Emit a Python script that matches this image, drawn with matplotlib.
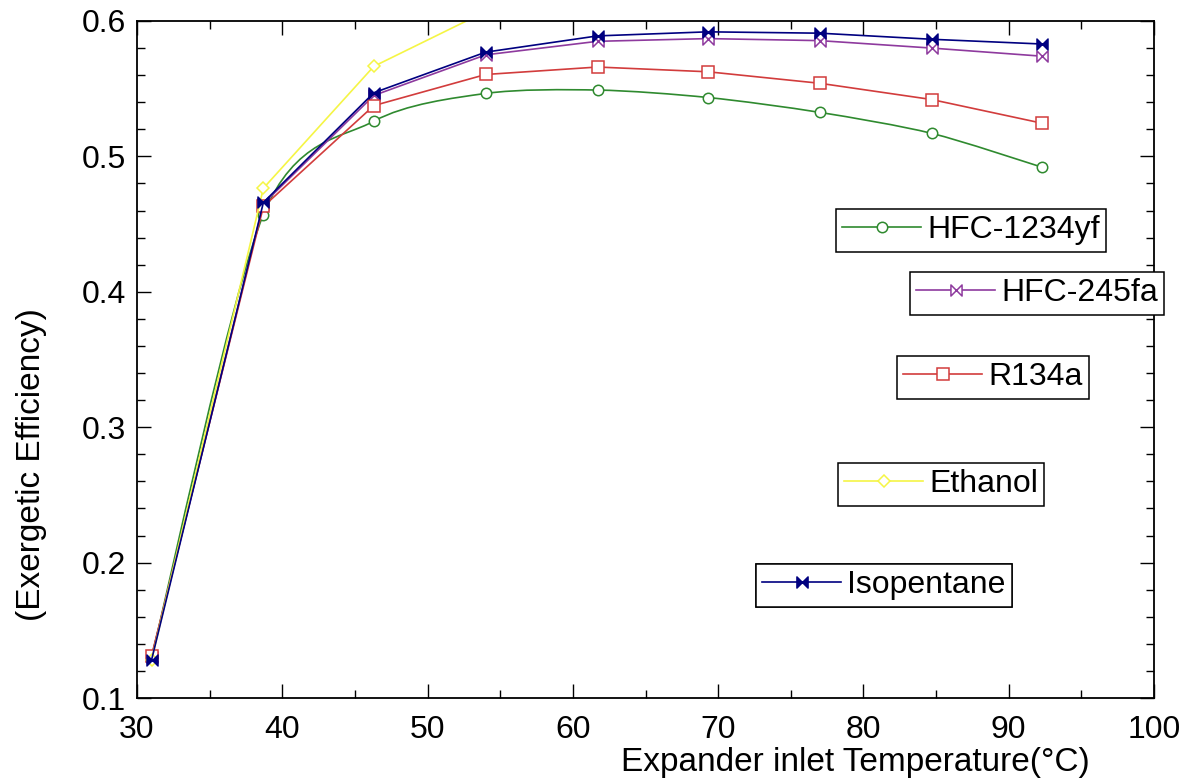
import numpy as np
import matplotlib
matplotlib.use('Agg')
import matplotlib.pyplot as plt
from matplotlib.path import Path
from matplotlib.patches import PathPatch
from matplotlib.lines import Line2D
from matplotlib.ticker import MultipleLocator

plt.rcParams['font.family'] = ['Liberation Sans', 'DejaVu Sans']

# Expander inlet temperature (°C)
temp = [31.0, 38.7, 46.3, 54.0, 61.7, 69.3, 77.0, 84.7, 92.3]

# Exergetic efficiency per working fluid
hfc1234yf = [0.130, 0.457, 0.526, 0.5465, 0.549, 0.5435, 0.5325, 0.517, 0.492]
hfc245fa = [0.130, 0.465, 0.545, 0.575, 0.585, 0.587, 0.5855, 0.580, 0.574]
r134a = [0.131, 0.463, 0.5375, 0.5605, 0.566, 0.5625, 0.554, 0.542, 0.5245]
ethanol = [0.128, 0.4765, 0.5665, 0.607]
isopentane = [0.128, 0.466, 0.547, 0.577, 0.589, 0.592, 0.591, 0.5865, 0.583]

GREEN = '#2f8a2f'
PURPLE = '#8e3a9e'
RED = '#d23c3c'
YELLOW = '#f5f545'
NAVY = '#000080'

# bowtie marker (two triangles meeting in the middle)
bowtie = Path([(-1, 1), (-1, -1), (1, 1), (1, -1), (-1, 1)],
              [Path.MOVETO, Path.LINETO, Path.LINETO, Path.LINETO, Path.CLOSEPOLY])


def spline_path(x, y, k=7.0):
    # Catmull-Rom style curve through the points, as cubic bezier segments
    pts = np.column_stack([x, y])
    ext = np.vstack([pts[0], pts, pts[-1]])
    verts = [pts[0]]
    codes = [Path.MOVETO]
    for i in range(len(pts) - 1):
        p0, p1, p2, p3 = ext[i], ext[i + 1], ext[i + 2], ext[i + 3]
        verts += [p1 + (p2 - p0) / k, p2 - (p3 - p1) / k, p2]
        codes += [Path.CURVE4] * 3
    return Path(verts, codes)


fig = plt.figure(figsize=(11.95, 7.82), dpi=100)
ax = fig.add_axes([137 / 1195, 1 - 698 / 782, 1017 / 1195, 677 / 782])

lw = 1.2
# HFC-1234yf drawn as a smooth curve
ax.add_patch(PathPatch(spline_path(temp, hfc1234yf), fill=False, edgecolor=GREEN, lw=lw))
ax.plot(temp, hfc1234yf, ls='none', marker='o', ms=7.5, mfc='white', mec=GREEN, mew=1.1)

ax.plot(temp, hfc245fa, color=PURPLE, lw=lw, marker=bowtie, ms=8, mfc='white', mec=PURPLE, mew=1.1)
ax.plot(temp, r134a, color=RED, lw=lw, marker='s', ms=8, mfc='white', mec=RED, mew=1.1)
ax.plot(temp[:len(ethanol)], ethanol, color=YELLOW, lw=lw, marker='D', ms=6, mfc='white', mec=YELLOW, mew=1.1)
ax.plot(temp, isopentane, color=NAVY, lw=lw, marker=bowtie, ms=8, mfc=NAVY, mec=NAVY, mew=1.0)

ax.set_xlim(30, 100)
ax.set_ylim(0.1, 0.6)
ax.xaxis.set_major_locator(MultipleLocator(10))
ax.xaxis.set_minor_locator(MultipleLocator(5))
ax.yaxis.set_major_locator(MultipleLocator(0.1))
ax.yaxis.set_minor_locator(MultipleLocator(0.02))
ax.yaxis.set_major_formatter(plt.FuncFormatter(lambda v, p: f'{v:.1f}'))
ax.tick_params(which='both', direction='in', top=True, right=True, width=1)
ax.tick_params(which='major', length=10, labelsize=23)
ax.tick_params(axis='y', which='major', pad=8)
ax.tick_params(axis='x', which='major', pad=12)
ax.tick_params(which='minor', length=6)
for s in ax.spines.values():
    s.set_linewidth(1.3)

fig.text(855 / 1195, 1 - 771 / 782, 'Expander inlet Temperature(°C)', fontsize=24,
         ha='center', va='baseline')
fig.text(32 / 1195, 1 - 465 / 782, '(Exergetic Efficiency)', fontsize=24,
         ha='center', va='center', rotation=90)

# separate legend boxes
entries = [
    ('HFC-1234yf', GREEN, 'o', 'white', 7.5, (836, 209)),
    ('HFC-245fa', PURPLE, bowtie, 'white', 8, (910, 272)),
    ('R134a', RED, 's', 'white', 8, (897, 356)),
    ('Ethanol', YELLOW, 'D', 'white', 6, (838, 463)),
    ('Isopentane', NAVY, bowtie, NAVY, 8, (756, 564)),
]
for name, col, mk, fc, ms, (px, py) in entries:
    h = Line2D([], [], color=col, lw=lw, marker=mk, ms=ms, mfc=fc, mec=col, mew=1.1)
    leg = ax.legend([h], [name], loc='upper left', bbox_to_anchor=(px / 1195, 1 - py / 782),
                    bbox_transform=fig.transFigure, borderaxespad=0, fontsize=23,
                    fancybox=False, framealpha=1, edgecolor='black', borderpad=0.2,
                    handlelength=2.45, handletextpad=0.2, markerscale=1)
    leg.get_frame().set_linewidth(1.1)
    ax.add_artist(leg)

fig.savefig('out.png', dpi=100)
